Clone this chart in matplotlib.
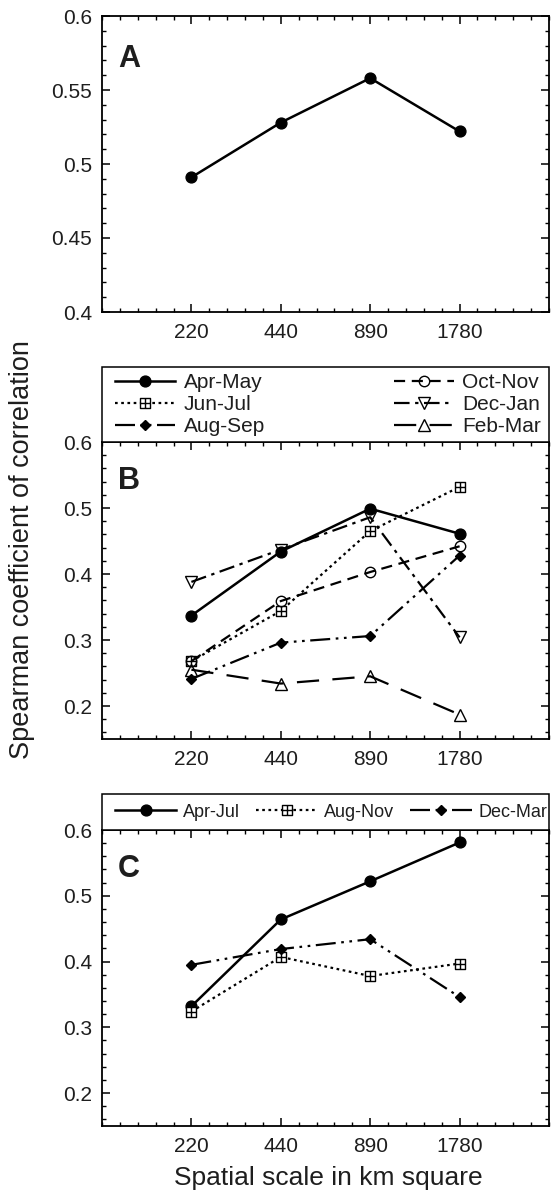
import matplotlib
matplotlib.use("Agg")
import matplotlib.pyplot as plt
from matplotlib.path import Path
from matplotlib.patches import Rectangle
from matplotlib.ticker import MultipleLocator, FuncFormatter
import numpy as np

plt.rcParams['font.family'] = ['Liberation Sans', 'DejaVu Sans']

# ---------------- data ----------------
scales = ["220", "440", "890", "1780"]

a_all = [0.491, 0.528, 0.558, 0.522]

b_apr_may = [0.337, 0.434, 0.499, 0.461]
b_jun_jul = [0.268, 0.344, 0.465, 0.532]
b_aug_sep = [0.241, 0.296, 0.306, 0.428]
b_oct_nov = [0.268, 0.359, 0.403, 0.442]
b_dec_jan = [0.388, 0.437, 0.486, 0.304]
b_feb_mar = [0.255, 0.234, 0.245, 0.187]

c_apr_jul = [0.332, 0.464, 0.522, 0.581]
c_aug_nov = [0.324, 0.407, 0.378, 0.397]
c_dec_mar = [0.395, 0.419, 0.434, 0.346]

b_labels = ["Apr-May", "Jun-Jul", "Aug-Sep", "Oct-Nov", "Dec-Jan", "Feb-Mar"]
c_labels = ["Apr-Jul", "Aug-Nov", "Dec-Mar"]

# ---------------- styles ----------------
sqplus = Path([(-1, -1), (1, -1), (1, 1), (-1, 1), (-1, -1),
               (0, -1), (0, 1), (-1, 0), (1, 0)],
              [Path.MOVETO, Path.LINETO, Path.LINETO, Path.LINETO, Path.CLOSEPOLY,
               Path.MOVETO, Path.LINETO, Path.MOVETO, Path.LINETO])

LW = 1.6
TXT = '#1e1e1e'
sty_solid = dict(color='black', lw=1.8, ls='-', marker='o', ms=7.8, mfc='black', mec='black')
sty_dot = dict(color='black', lw=LW, ls=(0, (1.2, 1.6)), marker=sqplus, ms=7.5, mfc='white', mec='black', mew=1.0)
sty_dadodo = dict(color='black', lw=LW, ls=(0, (9, 2.5, 1.2, 2.5, 1.2, 2.5)), marker='D', ms=5, mfc='black', mec='black')
sty_dash = dict(color='black', lw=LW, ls=(0, (5, 3)), marker='o', ms=7.5, mfc='none', mec='black', mew=1.0)
sty_dadot = dict(color='black', lw=LW, ls=(0, (7, 2.5, 1.5, 2.5)), marker='v', ms=8, mfc='none', mec='black', mew=1.0)
sty_long = dict(color='black', lw=LW, ls=(0, (10, 6)), marker='^', ms=8, mfc='none', mec='black', mew=1.0)

# ---------------- figure ----------------
W, H = 551, 1192
fig = plt.figure(figsize=(W / 100, H / 100), dpi=100)
LEFT, RIGHT = 102, 549

def axpos(top, bottom, left=LEFT, right=RIGHT):
    return [left / W, 1 - bottom / H, (right - left) / W, (bottom - top) / H]

axA = fig.add_axes(axpos(16, 312))
axB = fig.add_axes(axpos(442, 739))
axC = fig.add_axes(axpos(830, 1126))
AXW = RIGHT - LEFT

x = np.arange(1, len(scales) + 1)

def fmt(v, pos):
    return f"{v:.2f}".rstrip('0').rstrip('.')

def style_axes(ax, ylo, yhi, ymaj, ymin):
    ax.set_xlim(0, 5)
    ax.set_ylim(ylo, yhi)
    ax.set_xticks(x)
    ax.set_xticklabels(scales)
    ax.xaxis.set_minor_locator(MultipleLocator(0.2))
    ax.yaxis.set_major_locator(MultipleLocator(ymaj))
    ax.yaxis.set_minor_locator(MultipleLocator(ymin))
    ax.yaxis.set_major_formatter(FuncFormatter(fmt))
    ax.tick_params(which='both', direction='in', top=True, right=True,
                   labelsize=15, colors='black', labelcolor=TXT)
    ax.tick_params(which='major', length=6, width=1.1)
    ax.tick_params(which='minor', length=3.2, width=1.0)
    ax.tick_params(axis='x', which='major', pad=8)
    ax.tick_params(axis='y', which='major', pad=7)
    for sp in ax.spines.values():
        sp.set_linewidth(1.3)
        sp.set_color('black')

def legend_box(ax, height_px, axh_px):
    hfrac = height_px / axh_px
    ax.add_patch(Rectangle((0, 1), 1, hfrac, transform=ax.transAxes, clip_on=False,
                           facecolor='white', edgecolor='black', lw=1.1, zorder=5))
    return hfrac

# Panel A
axA.plot(x, a_all, **sty_solid)
style_axes(axA, 0.4, 0.6, 0.05, 0.01)
axA.text(0.036, 0.905, "A", transform=axA.transAxes, fontsize=22, fontweight='bold',
         ha='left', va='top', color=TXT)

# Panel B
b_series = [b_apr_may, b_jun_jul, b_aug_sep, b_oct_nov, b_dec_jan, b_feb_mar]
b_styles = [sty_solid, sty_dot, sty_dadodo, sty_dash, sty_dadot, sty_long]
handles = []
for vals, st, lab in zip(b_series, b_styles, b_labels):
    h, = axB.plot(x, vals, label=lab, **st)
    handles.append(h)
style_axes(axB, 0.15, 0.6, 0.1, 0.02)
axB.text(0.036, 0.92, "B", transform=axB.transAxes, fontsize=22, fontweight='bold',
         ha='left', va='top', color=TXT)
hB = legend_box(axB, 75, 297)
x0 = 13 / AXW
x1 = (AXW - 8) / AXW
legB = axB.legend(handles=handles, loc='center', bbox_to_anchor=(x0, 1, x1 - x0, hB),
                  mode='expand', ncol=2, borderaxespad=0, frameon=False,
                  fontsize=15, handlelength=2.9, handletextpad=0.4,
                  labelspacing=0.15, borderpad=0.0, labelcolor=TXT)
legB.set_zorder(6)

# Panel C
c_series = [c_apr_jul, c_aug_nov, c_dec_mar]
c_styles = [sty_solid, sty_dot, sty_dadodo]
handlesC = []
for vals, st, lab in zip(c_series, c_styles, c_labels):
    h, = axC.plot(x, vals, label=lab, **st)
    handlesC.append(h)
style_axes(axC, 0.15, 0.6, 0.1, 0.02)
axC.text(0.036, 0.92, "C", transform=axC.transAxes, fontsize=22, fontweight='bold',
         ha='left', va='top', color=TXT)
hC = legend_box(axC, 36, 296)
x0 = 13 / AXW
x1 = (AXW - 2) / AXW
legC = axC.legend(handles=handlesC, loc='center', bbox_to_anchor=(x0, 1, x1 - x0, hC),
                  mode='expand', ncol=3, borderaxespad=0, frameon=False,
                  fontsize=13, handlelength=3.4, handletextpad=0.35, columnspacing=0.5,
                  borderpad=0.0, labelcolor=TXT)
legC.set_zorder(6)

fig.text(22 / W, 1 - 550 / H, "Spearman coefficient of correlation", rotation=90,
         ha='center', va='center', fontsize=19.5, color=TXT)
fig.text(328 / W, 1 - 1178 / H, "Spatial scale in km square", ha='center', va='center',
         fontsize=19, color=TXT)

fig.savefig("out.png", dpi=100)
